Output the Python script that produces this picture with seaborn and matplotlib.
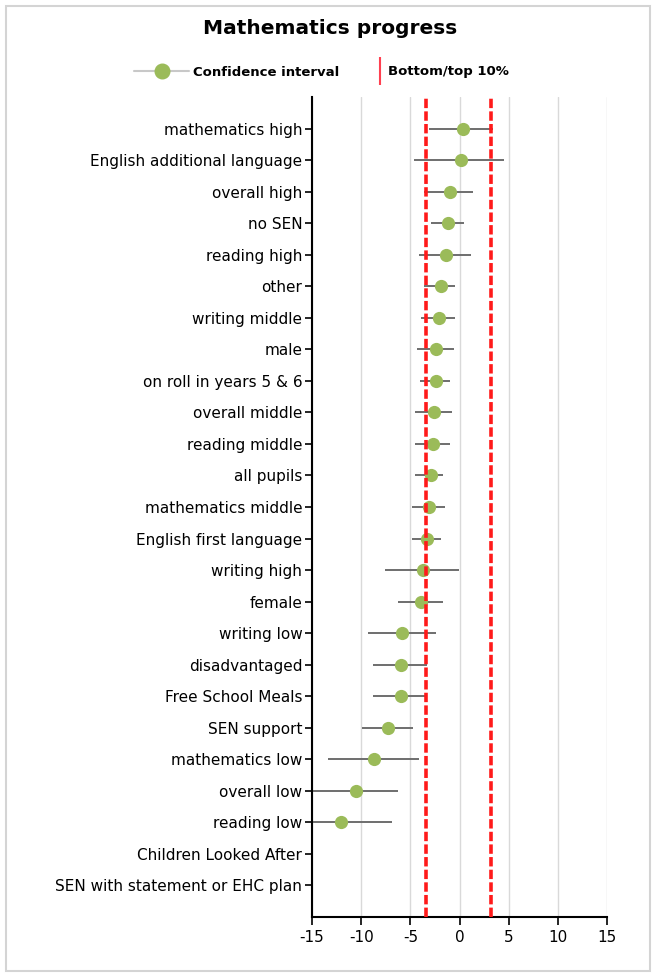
import matplotlib
matplotlib.use("Agg")
import matplotlib.pyplot as plt
import numpy as np
import pandas as pd
import seaborn as sns
from matplotlib.lines import Line2D
from matplotlib.patches import Rectangle

# pupil groups, top to bottom
groups = [
    "mathematics high", "English additional language", "overall high", "no SEN",
    "reading high", "other", "writing middle", "male", "on roll in years 5 & 6",
    "overall middle", "reading middle", "all pupils", "mathematics middle",
    "English first language", "writing high", "female", "writing low",
    "disadvantaged", "Free School Meals", "SEN support", "mathematics low",
    "overall low", "reading low", "Children Looked After",
    "SEN with statement or EHC plan",
]
progress = [0.36, 0.19, -1.0, -1.13, -1.33, -1.91, -2.12, -2.35, -2.42, -2.59,
            -2.69, -2.93, -3.10, -3.30, -3.71, -3.95, -5.81, -5.91, -5.91, -7.27,
            -8.73, -10.56, -12.09, np.nan, np.nan]
ci_low = [-3.1, -4.66, -3.6, -2.86, -4.15, -3.57, -3.95, -4.32, -3.98, -4.49,
          -4.49, -4.49, -4.83, -4.83, -7.54, -6.29, -9.31, -8.8, -8.8, -9.88,
          -13.41, -15.0, -15.0, np.nan, np.nan]
ci_high = [3.4, 4.56, 1.38, 0.46, 1.21, -0.42, -0.42, -0.59, -0.96, -0.76,
           -0.96, -1.67, -1.47, -1.84, -0.05, -1.67, -2.39, -3.27, -3.27, -4.69,
           -4.15, -6.29, -6.87, np.nan, np.nan]
bottom_10 = -3.4
top_10 = 3.2
x_ticks = [-15, -10, -5, 0, 5, 10, 15]


def main():
    sns.set_theme(style="white")
    plt.rcParams['font.family'] = ['DejaVu Sans']
    plt.rcParams['axes.unicode_minus'] = False
    plt.rcParams['text.color'] = 'black'

    df = pd.DataFrame({"group": groups, "progress": progress,
                       "lo": ci_low, "hi": ci_high})

    fig = plt.figure(figsize=(6.56, 9.76), dpi=100)
    ax = fig.add_axes([312 / 656, 1 - 917 / 976, 295 / 656, 820 / 976])

    ax.xaxis.grid(True, color="#d9d9d9", lw=1)
    ax.set_axisbelow(True)

    ax.hlines(np.arange(len(groups)), df["lo"], df["hi"], color="#6e6e6e",
              lw=1.4, zorder=2)
    sns.stripplot(data=df, x="progress", y="group", order=groups, jitter=False,
                  color="#9bbb59", size=9.5, linewidth=0, ax=ax, zorder=3)

    for v in (bottom_10, top_10):
        ax.axvline(v, color="#ff1a1a", lw=2.6, dashes=(2.6, 0.9), zorder=4)

    ax.set_xlim(-15, 15)
    ax.set_ylim(len(groups), -1)
    ax.set_xticks(x_ticks)
    ax.set_xlabel("")
    ax.set_ylabel("")
    sns.despine(ax=ax)
    for s in ("left", "bottom"):
        ax.spines[s].set_color("black")
        ax.spines[s].set_linewidth(1.5)
    ax.tick_params(axis="y", left=True, length=5, width=1.2, pad=2,
                   labelsize=11, colors="black")
    ax.tick_params(axis="x", bottom=True, length=6, width=1.2, pad=3,
                   labelsize=11, colors="black")

    fig.text(0.503, 1 - 29 / 976, "Mathematics progress", ha="center",
             va="center", fontsize=14.5, fontweight="bold", color="black")

    ci_handle = Line2D([], [], color="#c8c8c8", lw=1.5, marker="o",
                       markersize=10.5, markerfacecolor="#9bbb59",
                       markeredgecolor="#9bbb59")
    band_handle = Line2D([], [], color="#ff4050", lw=0, marker="|",
                         markersize=20, markeredgewidth=1.5)
    fig.legend([ci_handle], ["Confidence interval"], loc="center left",
               bbox_to_anchor=(122 / 656, 1 - 72 / 976), frameon=False,
               handlelength=4.2, handletextpad=0.3,
               prop={"weight": "bold", "size": 9.5})
    fig.legend([band_handle], ["Bottom/top 10%"], loc="center left",
               bbox_to_anchor=(362 / 656, 1 - 72 / 976), frameon=False,
               handlelength=1.0, handletextpad=0.1,
               prop={"weight": "bold", "size": 9.5})

    fig.patches.append(Rectangle((6 / 656, 5 / 976), 644 / 656, 965 / 976,
                                 transform=fig.transFigure, fill=False,
                                 edgecolor="#d4d4d4", lw=1.5))

    fig.savefig("out.png", dpi=100)


if __name__ == "__main__":
    main()
